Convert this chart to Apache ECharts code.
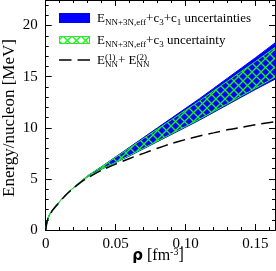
<!DOCTYPE html>
<html>
<head>
<meta charset="utf-8">
<script src="https://cdn.jsdelivr.net/npm/echarts@6/dist/echarts.min.js"></script>
<style>html,body{margin:0;padding:0;background:#fff;}#c{width:276px;height:271px;}</style>
</head>
<body>
<div id="c"></div>
<script>
// ---- data ----
const rho       = [0, 0.001, 0.0025, 0.005, 0.0075, 0.01, 0.015, 0.02, 0.025, 0.03, 0.04, 0.05, 0.06, 0.07, 0.08, 0.09, 0.10, 0.11, 0.12, 0.13, 0.14, 0.15, 0.164];
const blueLow   = [0, 0.9, 1.45, 2.0, 2.4, 2.8, 3.55, 4.15, 4.68, 5.2, 5.95, 6.6, 7.25, 7.95, 8.65, 9.35, 10.05, 10.75, 11.5, 12.25, 13.0, 13.75, 14.75];
const blueHigh  = [0, 0.9, 1.45, 2.0, 2.4, 2.8, 3.55, 4.15, 4.75, 5.3, 6.2, 7.15, 8.1, 9.05, 10.0, 10.95, 11.9, 12.85, 13.85, 14.85, 15.85, 16.85, 18.3];
const greenLow  = [0, 0.9, 1.45, 2.0, 2.4, 2.8, 3.55, 4.15, 4.68, 5.2, 5.97, 6.63, 7.29, 8.0, 8.71, 9.42, 10.13, 10.84, 11.6, 12.36, 13.12, 13.88, 14.95];
const greenHigh = [0, 0.9, 1.45, 2.0, 2.4, 2.8, 3.55, 4.15, 4.75, 5.3, 6.18, 7.1, 8.03, 8.95, 9.87, 10.79, 11.71, 12.63, 13.6, 14.56, 15.52, 16.48, 17.85];
const dashedE   = [0, 0.85, 1.4, 1.95, 2.35, 2.75, 3.5, 4.1, 4.65, 5.1, 5.85, 6.45, 7.0, 7.5, 8.0, 8.45, 8.85, 9.2, 9.5, 9.8, 10.05, 10.3, 10.6];
const xMajor = [0, 0.05, 0.10, 0.15];
const xMinor = [0.01, 0.02, 0.03, 0.04, 0.06, 0.07, 0.08, 0.09, 0.11, 0.12, 0.13, 0.14, 0.16];
const yMajor = [0, 5, 10, 15, 20];
const yMinor = [1,2,3,4,6,7,8,9,11,12,13,14,16,17,18,19,21,22];

// ---- helpers ----
const GREEN = '#22ee22';
const BLUE = '#0000ff';
const SERIF = 'Liberation Serif';
function hatch() {
  const s = 9;
  const c = document.createElement('canvas');
  c.width = s; c.height = s;
  const g = c.getContext('2d');
  g.strokeStyle = GREEN; g.lineWidth = 1.3;
  for (const k of [-s, 0, s]) {
    g.beginPath(); g.moveTo(k, 0); g.lineTo(k + s, s); g.stroke();
    g.beginPath(); g.moveTo(k + s, 0); g.lineTo(k, s); g.stroke();
  }
  return c;
}
const pat = hatch();
const pairs = (ys) => rho.map((x, i) => [x, ys[i]]);

function bandItem(lo, hi, fill, stroke, lw) {
  return function (params, api) {
    const top = rho.map((x, i) => api.coord([x, hi[i]]));
    const bot = rho.map((x, i) => api.coord([x, lo[i]]));
    const poly = top.concat(bot.slice().reverse());
    const children = [{ type: 'polygon', shape: { points: poly }, style: { fill: fill, stroke: lw ? null : fill } }];
    if (lw) {
      children.push({ type: 'polyline', shape: { points: top }, style: { stroke: stroke, lineWidth: lw, fill: null } });
      children.push({ type: 'polyline', shape: { points: bot }, style: { stroke: stroke, lineWidth: lw, fill: null } });
    }
    return { type: 'group', children: children };
  };
}

function xAx(pos, vals, len, labels) {
  return {
    type: 'value', min: 0, max: 0.164, position: pos,
    axisLine: { show: true, onZero: false, lineStyle: { color: '#000', width: 1 } },
    axisTick: { show: true, inside: true, length: len, customValues: vals, lineStyle: { color: '#000', width: 1 } },
    axisLabel: labels ? { show: true, customValues: vals, margin: 7, color: '#000', fontFamily: SERIF, fontSize: 15,
      formatter: v => v === 0 ? '0' : v.toFixed(2) } : { show: false },
    splitLine: { show: false }
  };
}
function yAx(pos, vals, len, labels) {
  return {
    type: 'value', min: 0, max: 22.5, position: pos,
    axisLine: { show: true, onZero: false, lineStyle: { color: '#000', width: 1 } },
    axisTick: { show: true, inside: true, length: len, customValues: vals, lineStyle: { color: '#000', width: 1 } },
    axisLabel: labels ? { show: true, customValues: vals, margin: 8, color: '#000', fontFamily: SERIF, fontSize: 15 } : { show: false },
    splitLine: { show: false }
  };
}

const chart = echarts.init(document.getElementById('c'), null, { renderer: 'canvas' });
const nrm = { fontFamily: SERIF, fontSize: 13, lineHeight: 16, verticalAlign: 'middle', fill: '#000' };
const sub = { fontFamily: SERIF, fontSize: 9, lineHeight: 9, verticalAlign: 'bottom', fill: '#000' };
chart.setOption({
  animation: false,
  backgroundColor: '#fff',
  grid: { left: 45.7, right: 1, top: 0, bottom: 41, containLabel: false },
  xAxis: [xAx('bottom', xMajor, 6, true), xAx('bottom', xMinor, 3, false), xAx('top', xMajor, 6, false), xAx('top', xMinor, 3, false)],
  yAxis: [yAx('left', yMajor, 6, true), yAx('left', yMinor, 3, false), yAx('right', yMajor, 6, false), yAx('right', yMinor, 3, false)],
  series: [
    { type: 'custom', data: [[0, 0]], renderItem: bandItem(blueLow, blueHigh, BLUE, BLUE, 0), silent: true, z: 1 },
    { type: 'custom', data: [[0, 0]], renderItem: bandItem(greenLow, greenHigh, { image: pat, repeat: 'repeat' }, GREEN, 1), silent: true, z: 2 },
    { type: 'line', data: pairs(dashedE), symbol: 'none', smooth: 0.2, z: 3, lineStyle: { color: '#000', width: 1.5, type: [12, 6] } }
  ],
  graphic: [
    { type: 'rect', shape: { x: 59, y: 13, width: 31, height: 10 }, style: { fill: BLUE } },
    { type: 'rect', shape: { x: 59.5, y: 36.5, width: 30, height: 7 }, style: { fill: { image: pat, repeat: 'repeat' }, stroke: GREEN, lineWidth: 1 } },
    { type: 'line', shape: { x1: 59, y1: 60, x2: 90, y2: 60 }, style: { stroke: '#000', lineWidth: 1.5, lineDash: [12.5, 6] } },
    { type: 'text', x: 97, y: 19, style: {
      text: '{n|E}{s|NN+3N,eff}{n|+c}{s|3}{n|+c}{s|1}{n| uncertainties}',
      verticalAlign: 'middle', rich: { n: nrm, s: sub } } },
    { type: 'text', x: 97, y: 41, style: {
      text: '{n|E}{s|NN+3N,eff}{n|+c}{s|3}{n| uncertainty}',
      verticalAlign: 'middle', rich: { n: nrm, s: sub } } },
    { type: 'text', x: 97, y: 61, style: {
      text: '{n|E}{s|NN}{n|+ E}{s|NN}',
      verticalAlign: 'middle', rich: { n: nrm, s: Object.assign({}, sub, { width: 13 }) } } },
    { type: 'text', x: 97, y: 61, style: {
      text: '{n|E}{p|(1)}{n|+ E}{p|(2)}',
      verticalAlign: 'middle', rich: { n: Object.assign({}, nrm, { fill: 'rgba(0,0,0,0)' }),
        p: Object.assign({}, sub, { width: 13, verticalAlign: 'top' }) } } },
    { type: 'text', x: 10, y: 118, rotation: Math.PI / 2, style: {
      text: 'Energy/nucleon [MeV]', fontFamily: SERIF, fontSize: 17, fill: '#000', align: 'center', verticalAlign: 'middle' } },
    { type: 'text', x: 158, y: 256, style: {
      text: '{r|ρ}{n| [fm}{p|-3}{n|]}', align: 'center', verticalAlign: 'middle',
      rich: {
        r: { fontFamily: 'DejaVu Sans', fontWeight: 'bold', fontSize: 15, lineHeight: 18, verticalAlign: 'middle', fill: '#000' },
        n: { fontFamily: SERIF, fontSize: 16, lineHeight: 18, verticalAlign: 'middle', fill: '#000' },
        p: { fontFamily: SERIF, fontSize: 10, lineHeight: 10, verticalAlign: 'top', fill: '#000' }
      } } }
  ]
});
</script>
</body>
</html>
